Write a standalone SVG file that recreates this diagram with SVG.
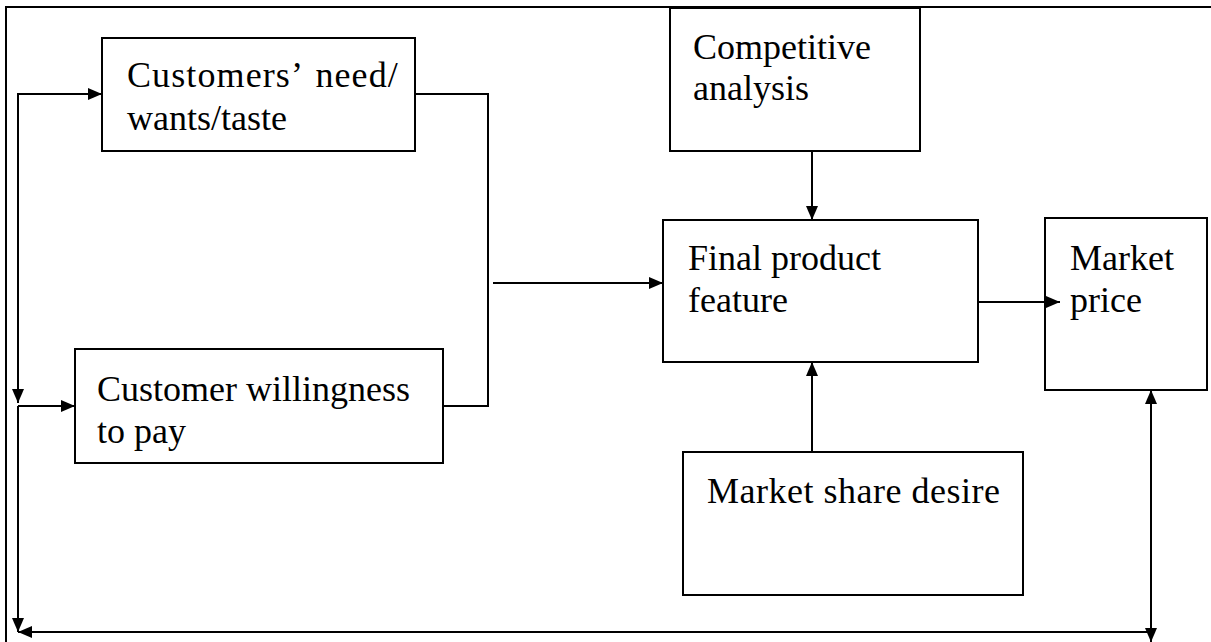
<svg xmlns="http://www.w3.org/2000/svg" width="1211" height="642" viewBox="0 0 1211 642">
<style>
.box{fill:#fff;stroke:#000;stroke-width:2}
.ln{fill:none;stroke:#000;stroke-width:2}
.t{font-family:'Liberation Serif','DejaVu Serif',serif;font-size:36px;fill:#000}
</style>
<defs>
<marker id="ah" viewBox="0 0 14 12" refX="14" refY="6" markerWidth="14" markerHeight="12" markerUnits="userSpaceOnUse" orient="auto">
<path d="M0,0 L14,6 L0,12 Z" fill="#000"/>
</marker>
</defs>
<rect width="1211" height="642" fill="#fff"/>
<g id="frame">
<path class="ln" d="M6,642 V7 H1211"/>
</g>
<g id="customers-need">
<rect class="box" x="102" y="38" width="313" height="113"/>
<text class="t" x="127" y="87" letter-spacing="1.1" word-spacing="4">Customers’ need/</text>
<text class="t" x="127" y="130">wants/taste</text>
</g>
<g id="willingness">
<rect class="box" x="75" y="349" width="368" height="114"/>
<text class="t" x="97" y="401">Customer willingness</text>
<text class="t" x="97" y="443">to pay</text>
</g>
<g id="competitive">
<rect class="box" x="670" y="8" width="250" height="143"/>
<text class="t" x="693" y="59">Competitive</text>
<text class="t" x="693" y="100">analysis</text>
</g>
<g id="final-product">
<rect class="box" x="663" y="220" width="315" height="142"/>
<text class="t" x="688" y="270">Final product</text>
<text class="t" x="688" y="312">feature</text>
</g>
<g id="market-price">
<rect class="box" x="1045" y="218" width="162" height="172"/>
<text class="t" x="1070" y="270">Market</text>
<text class="t" x="1070" y="312">price</text>
</g>
<g id="market-share">
<rect class="box" x="683" y="452" width="340" height="143"/>
<text class="t" x="707" y="503" letter-spacing="0.5">Market share desire</text>
</g>
<g id="connectors">
<path class="ln" d="M415,94 H488 V406 H443"/>
<path class="ln" d="M493,283 H663" marker-end="url(#ah)"/>
<path class="ln" d="M812,151 V220" marker-end="url(#ah)"/>
<path class="ln" d="M812,452 V362" marker-end="url(#ah)"/>
<path class="ln" d="M978,302 H1060" marker-end="url(#ah)"/>
<path class="ln" d="M18,403 V94 H102" marker-end="url(#ah)"/>
<path class="ln" d="M18,94 V403" marker-end="url(#ah)"/>
<path class="ln" d="M18,406 H75" marker-end="url(#ah)"/>
<path class="ln" d="M18,406 V632" marker-end="url(#ah)"/>
<path class="ln" d="M1151,632 H18" marker-end="url(#ah)"/>
<path class="ln" d="M1151,632 V390" marker-end="url(#ah)"/>
<path class="ln" d="M1151,400 V642" marker-end="url(#ah)"/>
</g>
</svg>
